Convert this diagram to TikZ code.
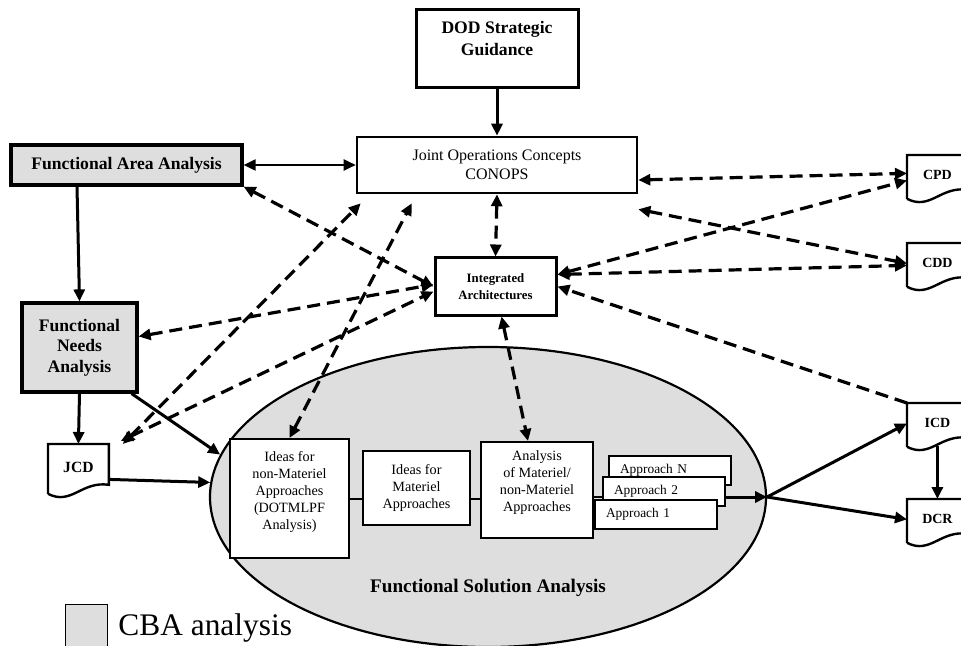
\documentclass[tikz,border=0pt]{standalone}
\usepackage{fontspec}
\setmainfont{Liberation Serif}
\usetikzlibrary{arrows.meta,positioning,calc,shapes.geometric}
\definecolor{cbaGray}{RGB}{222,222,222}

% document symbol: box with a wavy lower edge
\newcommand\docoutline[1]{%
  \draw[docline] ($(#1.south west)+(0,-1.5pt)$) -- (#1.north west) -- (#1.north east)
    -- ($(#1.south east)+(0,3pt)$)
    .. controls ($(#1.south)+(1.5pt,5pt)$) and ($(#1.south)+(-3.5pt,-7.5pt)$) .. ($(#1.south west)+(0,-1.5pt)$);}

\begin{document}
\begin{tikzpicture}[x=0.5pt,y=-0.5pt,
    >={Triangle[length=6pt,width=5.5pt]},
    topbox/.style={draw, line width=1.5pt, align=center, inner sep=0pt, fill=white},
    cbabox/.style={draw, line width=1.6pt, align=center, inner sep=0pt, fill=cbaGray,
      font=\fontsize{8.8pt}{10.25pt}\selectfont\bfseries},
    ideabox/.style={draw, line width=1pt, align=center, inner sep=0pt, fill=white,
      font=\fontsize{7.1pt}{8.5pt}\selectfont},
    appbox/.style={draw, line width=1pt, fill=white, align=left, text width=50pt,
      inner xsep=5.5pt, inner ysep=0pt, minimum height=14.5pt,
      font=\fontsize{6.7pt}{8pt}\selectfont},
    docnode/.style={anchor=north west, minimum width=30pt, minimum height=20pt,
      inner sep=0pt, font=\fontsize{7pt}{8pt}\selectfont\bfseries},
    docline/.style={line width=1.2pt},
    region/.style={ellipse, draw, line width=1.1pt, fill=cbaGray, inner sep=0pt,
      minimum width=278pt, minimum height=150pt},
    flow/.style={line width=1.5pt},
    link/.style={line width=1.6pt, dash pattern=on 6.5pt off 3.5pt}]

  \useasboundingbox (0,0) rectangle (961,646);

  % solution region
  \node[region] (fsa) at (488,497) {};
  \node[font=\fontsize{9.6pt}{11pt}\selectfont\bfseries] (fsatext) at (488,588) {Functional Solution Analysis};

  % boxes
  \node[topbox, minimum width=81pt, minimum height=39pt,
    font=\fontsize{8.8pt}{11pt}\selectfont\bfseries] (dod) at (497,49) {DOD Strategic\\Guidance\\~};
  \node[topbox, line width=1.3pt, minimum width=140pt, minimum height=28pt,
    font=\fontsize{8pt}{9.5pt}\selectfont] (joc) at (497,165) {Joint Operations Concepts\\CONOPS};
  \node[cbabox, minimum width=115.5pt, minimum height=20pt] (faa) at (126.5,165) {Functional Area Analysis};
  \node[cbabox, minimum width=57.5pt, minimum height=44.5pt] (fna) at (79.5,347.5) {Functional\\Needs\\Analysis};
  \node[topbox, minimum width=60.5pt, minimum height=28.5pt,
    font=\fontsize{6.4pt}{8.5pt}\selectfont\bfseries] (ia) at (495.5,286.5) {Integrated\\Architectures};

  \node[ideabox, minimum width=59.5pt, minimum height=59.5pt] (nonmat) at (289.5,498.5)
    {Ideas for\\non-Materiel\\Approaches\\(DOTMLPF\\Analysis)\\~};
  \node[ideabox, minimum width=53.5pt, minimum height=37pt] (mat) at (416.5,488)
    {Ideas for\\Materiel\\Approaches};
  \node[ideabox, minimum width=56pt, minimum height=48pt] (ana) at (537,490)
    {Analysis\\of Materiel/\\non-Materiel\\Approaches\\~};

  \draw[line width=1pt] (nonmat.east) -- (nonmat.east -| mat.west);
  \draw[line width=1pt] (mat.east |- nonmat.east) -- (ana.west |- nonmat.east);
  \draw[line width=1pt] (ana.east |- fsa.east) -- (603,497);

  \node[appbox] (appn) at (670,470.5) {Approach N};
  \node[appbox] (app2) at (664,491.5) {Approach 2};
  \node[appbox] (app1) at (656,514.5) {Approach 1};

  % documents
  \node[docnode] (cpd) at (907,155) {CPD};
  \node[docnode] (cdd) at (907,243) {CDD};
  \node[docnode] (icd) at (907,403) {ICD};
  \node[docnode] (dcr) at (907,499) {DCR};
  \node[docnode, minimum height=23pt, font=\fontsize{7.8pt}{9pt}\selectfont\bfseries] (jcd) at (48,444) {JCD};
  \docoutline{cpd}
  \docoutline{cdd}
  \docoutline{icd}
  \docoutline{dcr}
  \docoutline{jcd}

  % solid flow
  \draw[flow, ->] (dod) -- (joc);
  \draw[line width=1pt, <->] (faa.east) -- (joc.west);
  \draw[flow, ->] ([xshift=-24.75pt]faa.south) -- (fna.north);
  \draw[flow, ->] (fna.south) -- (jcd.north);
  \draw[flow, ->] ([xshift=-3.5pt]fna.south east) -- (fsa.171);
  \draw[flow, ->] ([yshift=-6pt]jcd.east) -- (fsa.177);
  \draw[flow, ->] (app2.east |- fsa.east) -- (fsa.east);
  \draw[flow, ->] (fsa.east) -- (icd.west);
  \draw[flow, ->] (fsa.east) -- (dcr.west);
  \draw[flow, ->] ([yshift=-1pt]icd.south) -- (dcr.north);

  % dashed links
  \draw[link, <->] (faa.south east) -- (ia.west);
  \draw[link, <->] ([yshift=5.5pt]fna.east) -- ([yshift=1pt]ia.west);
  \draw[link, <->] ([xshift=7pt]jcd.north east) -- ([xshift=2.5pt,yshift=-4.5pt]joc.south west);
  \draw[link, <->] ([xshift=6pt,yshift=1.5pt]jcd.north east) -- ([yshift=-2.5pt]ia.west);
  \draw[link, <->] (nonmat.north) -- ([xshift=28pt,yshift=-4.5pt]joc.south west);
  \draw[link, <->] (joc.south) -- (ia.north);
  \draw[link, <->] ([xshift=3pt]ia.south) -- ([xshift=-4.5pt]ana.north);
  \draw[link, <->] ([yshift=-7.5pt]joc.east) -- ([yshift=1pt]cpd.west);
  \coordinate (jocside) at ([yshift=-7.5pt]joc.south east);
  \draw[link, <->] (jocside) -- (cdd.west);
  \draw[link, <->] ([yshift=6pt]ia.east) -- ([yshift=-2.5pt]cpd.west);
  \draw[link, <->] ([yshift=6pt]ia.east) -- ([yshift=-1pt]cdd.west);
  \draw[link, ->] (icd.north west) -- (ia.east);

  % legend
  \node[draw, line width=0.6pt, fill=cbaGray, minimum size=21pt, inner sep=0pt,
    anchor=north west] (key) at (65,604) {};
  \node[anchor=base west, inner sep=0pt, font=\fontsize{15.7pt}{18pt}\selectfont] (keytext) at (118,635) {CBA analysis};
\end{tikzpicture}
\end{document}
